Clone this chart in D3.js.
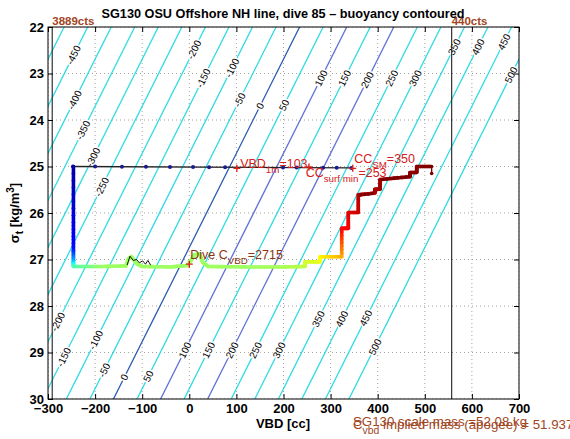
<!DOCTYPE html>
<html><head><meta charset="utf-8">
<script src="https://cdn.jsdelivr.net/npm/d3@7"></script>
<style>
body{margin:0;background:#fff;}
svg{display:block;font-family:"Liberation Sans",Arial,Helvetica,sans-serif;}
</style></head><body>
<svg id="chart" width="570" height="439"></svg>
<script>
// ---------- data ----------
const xTicks = [-300,-200,-100,0,100,200,300,400,500,600,700];
const yTicks = [22,23,24,25,26,27,28,29,30];
const contourLevels = [-500,-450,-400,-350,-300,-250,-200,-150,-100,-50,0,50,100,150,200,250,300,350,400,450,500];
// buoyancy field: zero-buoyancy VBD at sigma 30 and cc per kg/m3
const zeroBuoyVbdAtSigma30 = -161;
const ccPerSigma = 49.4;
const labelLevelsTop = [-450,-400,-350,-300,-250,-200,-150,-100,-50,0,50,100,150,200,250,300,350,400,450,500];
const labelSigmasTop = [22.60,23.57,24.22,24.80,25.44,22.49,23.10,22.88,23.57,23.70,23.68,23.10,23.10,23.14,23.10,23.10,22.43,22.43,22.32,23.03];
const labelLevelsBottom = [-200,-150,-100,-50,0,50,100,150,200,250,300,350,400,450,500];
const labelSigmasBottom = [28.34,29.10,28.73,29.38,29.53,29.51,28.95,28.95,28.95,28.95,28.95,28.28,28.28,28.26,28.88];

// dive trajectory (VBD cc, sigma_t, colour position 0..1)
const diveVbd   = [-246,-246,-246,-246,-246, -180,-135,-129,-123,-117,-110,-100,-40,-5,5,10,22,28,40,120,200,245.6,
                   245.6,277.5,277.5,323.6,323.6,337.6,337.6,358.8,358.8,394,394,405,405,468.6,468.6,482.8,482.8,514.6];
const diveSigma = [25.0,26.2,26.8,27.05,27.15, 27.15,27.14,26.98,26.94,27.02,27.10,27.15,27.16,27.13,27.0,26.9,26.88,27.05,27.15,27.16,27.16,27.15,
                   27.05,27.05,26.94,26.94,26.33,26.33,25.99,25.99,25.61,25.57,25.49,25.49,25.28,25.22,25.13,25.13,25.0,25.0];
const diveColorPos = [0.03,0.09,0.14,0.3,0.45, 0.53,0.53,0.53,0.53,0.53,0.53,0.53,0.53,0.53,0.53,0.53,0.53,0.53,0.53,0.53,0.54,0.56,
                   0.58,0.6,0.63,0.7,0.87,0.88,0.9,0.92,0.94,0.95,0.96,0.96,0.97,0.98,0.985,0.99,0.99,1.0];
const tailVbd = [514.6,514.6];
const tailSigma = [25.0,25.15];
const darkDotVbd = [364,372,380,388,410,418,426,434,442,450,458,466,514.6];
const darkDotSigma = [25.61,25.60,25.59,25.58,25.28,25.27,25.26,25.25,25.24,25.23,25.23,25.22,25.15];

// secondary black trace
const blackVbd = [-132,-126,-119,-112,-106,-99,-93,-88,-82];
const blackSigma = [27.12,26.93,27.02,27.0,27.07,27.03,27.1,27.02,27.12];

// surface line at sigma 25
const surfVbd = [-246,345];
const surfSigma = [25.0,25.03];
const surfDotVbd = [-247,-200,-143,-92,-41,8,42,76,199,228,284,313,344];

// markers
const markVbd = [101,254,347,0];
const markSigma = [25.04,25.01,25.04,27.1];

// count limit lines
const limitVbd = [-291,557];
const limitLabels = ["3889cts","440cts"];

// ---------- drawing ----------
const svg = d3.select("#chart");
const L=48,R=519,T=27,B=399;
const x = d3.scaleLinear().domain([-300,700]).range([L,R]);
const y = d3.scaleLinear().domain([22,30]).range([T,B]);
const jet = d3.scaleLinear().domain([0,0.125,0.375,0.625,0.875,1])
  .range(["#00008f","#0000ff","#00ffff","#ffff00","#ff0000","#800000"]);

svg.append("rect").attr("width",570).attr("height",439).attr("fill","#fff");
svg.append("defs").append("clipPath").attr("id","clip")
  .append("rect").attr("x",L).attr("y",T).attr("width",R-L).attr("height",B-T);
const plot = svg.append("g").attr("clip-path","url(#clip)");

// grid
plot.selectAll(".gx").data(xTicks).join("line")
  .attr("x1",d=>x(d)).attr("x2",d=>x(d)).attr("y1",T).attr("y2",B)
  .attr("stroke","#8a8a8a").attr("stroke-width",0.8).attr("stroke-dasharray","1,3");
plot.selectAll(".gy").data(yTicks).join("line")
  .attr("x1",L).attr("x2",R).attr("y1",d=>y(d)).attr("y2",d=>y(d))
  .attr("stroke","#8a8a8a").attr("stroke-width",0.8).attr("stroke-dasharray","1,3");

// contours
const vbdOn = (level, s) => level + zeroBuoyVbdAtSigma30 - ccPerSigma*(s-30);
const contourColor = l => l===0 ? "#2b5bb2" : (l===100||l===200) ? "#5f70d6" : "#2fdbe3";
plot.selectAll(".ct").data(contourLevels).join("line")
  .attr("x1",l=>x(vbdOn(l,30))).attr("y1",y(30))
  .attr("x2",l=>x(vbdOn(l,22))).attr("y2",y(22))
  .attr("stroke",contourColor).attr("stroke-width",1.3);

const angle = Math.atan2(y(21)-y(22), x(ccPerSigma)-x(0))*180/Math.PI;
const labels = labelLevelsTop.map((l,i)=>({l, s:labelSigmasTop[i]}))
  .concat(labelLevelsBottom.map((l,i)=>({l, s:labelSigmasBottom[i]})));
plot.selectAll(".cl").data(labels).join("text")
  .attr("transform",d=>`translate(${x(vbdOn(d.l,d.s))},${y(d.s)}) rotate(${angle})`)
  .attr("text-anchor","middle").attr("dy","0.35em")
  .attr("font-size",10).attr("fill","#000")
  .attr("stroke","#fff").attr("stroke-width",3).attr("paint-order","stroke")
  .text(d=>d.l<0?"-"+Math.abs(d.l):d.l);

// limit lines
svg.selectAll(".lim").data(limitVbd).join("line")
  .attr("x1",d=>x(d)).attr("x2",d=>x(d)).attr("y1",T).attr("y2",B)
  .attr("stroke","#333").attr("stroke-width",1.2);
svg.selectAll(".liml").data(limitVbd).join("text")
  .attr("x",d=>x(d)).attr("y",T-2).attr("font-size",11.5).attr("font-weight","bold")
  .attr("fill","#a0461e").text((d,i)=>limitLabels[i]);

// surface line + dots
const line = d3.line().x(d=>x(d[0])).y(d=>y(d[1]));
plot.append("path").datum(surfVbd.map((v,i)=>[v,surfSigma[i]]))
  .attr("d",line).attr("fill","none").attr("stroke","#222").attr("stroke-width",1.3);
const surfSig = d3.scaleLinear().domain(surfVbd).range(surfSigma);
plot.selectAll(".sd").data(surfDotVbd).join("circle")
  .attr("cx",d=>x(d)).attr("cy",d=>y(surfSig(d))).attr("r",2).attr("fill","#1a1a90");

// dive path, coloured segments
const dive = diveVbd.map((v,i)=>({v,s:diveSigma[i],c:diveColorPos[i]}));
const segs = [];
for(let i=0;i<dive.length-1;i++){
  const a=dive[i], b=dive[i+1], n=8;
  for(let k=0;k<n;k++){
    const f0=k/n, f1=(k+1)/n;
    segs.push({x1:x(a.v+(b.v-a.v)*f0), y1:y(a.s+(b.s-a.s)*f0),
               x2:x(a.v+(b.v-a.v)*f1), y2:y(a.s+(b.s-a.s)*f1),
               c:jet(a.c+(b.c-a.c)*(f0+f1)/2)});
  }
}
plot.selectAll(".dv").data(segs).join("line")
  .attr("x1",d=>d.x1).attr("y1",d=>d.y1).attr("x2",d=>d.x2).attr("y2",d=>d.y2)
  .attr("stroke",d=>d.c).attr("stroke-width",3.6).attr("stroke-linecap","round");
plot.append("path").datum(tailVbd.map((v,i)=>[v,tailSigma[i]]))
  .attr("d",line).attr("fill","none").attr("stroke","#700000").attr("stroke-width",1.3);
plot.selectAll(".dd").data(darkDotVbd).join("circle")
  .attr("cx",d=>x(d)).attr("cy",(d,i)=>y(darkDotSigma[i])).attr("r",1.8).attr("fill","#7a0000");

// black trace
plot.append("path").datum(blackVbd.map((v,i)=>[v,blackSigma[i]]))
  .attr("d",line).attr("fill","none").attr("stroke","#111").attr("stroke-width",1);

// markers
plot.selectAll(".mk").data(markVbd).join("path")
  .attr("d",(d,i)=>{const cx=x(d),cy=y(markSigma[i]);return `M${cx-3.5},${cy}H${cx+3.5}M${cx},${cy-3.5}V${cy+3.5}`;})
  .attr("stroke","#dd2020").attr("stroke-width",1.4);

// rich text helper
function rich(g,x0,y0,parts,size,color,weight){
  const t=g.append("text").attr("x",x0).attr("y",y0).attr("font-size",size)
    .attr("fill",color).attr("font-weight",weight||"normal");
  let shifted=false;
  parts.forEach(p=>{
    const ts=t.append("tspan").text(p.t);
    if(p.sub){ts.attr("font-size",size*0.78).attr("dy",shifted?0:size*0.4);shifted=true;}
    else if(shifted){ts.attr("dy",-size*0.4);shifted=false;}
  });
  return t;
}
const red="#d42020";
rich(svg,x(108),y(25.04),[{t:"VBD"},{t:"1m",sub:true},{t:"=103"}],12.5,red);
rich(svg,x(247),y(25.23),[{t:"CC"},{t:"surf min",sub:true},{t:"=253"}],12.5,red);
rich(svg,x(350),y(24.93),[{t:"CC"},{t:"SM",sub:true},{t:"=350"}],12.5,red);
rich(svg,x(2),y(26.98),[{t:"Dive C"},{t:"VBD",sub:true},{t:"=2715"}],12.5,"#8b3510");

// box and axes
svg.append("rect").attr("x",L).attr("y",T).attr("width",R-L).attr("height",B-T)
  .attr("fill","none").attr("stroke","#000").attr("stroke-width",1);
const styleAxis = g=>{g.select(".domain").remove();
  g.selectAll(".tick line").attr("stroke","#000");
  g.selectAll("text").attr("font-size",13).attr("font-weight","bold").attr("fill","#000")
   .attr("font-family","'Liberation Sans',Arial,sans-serif");};
svg.append("g").attr("transform",`translate(0,${B})`)
  .call(d3.axisBottom(x).tickValues(xTicks).tickSizeInner(-5).tickSizeOuter(0).tickPadding(5)).call(styleAxis);
svg.append("g").attr("transform",`translate(${L},0)`)
  .call(d3.axisLeft(y).tickValues(yTicks).tickSizeInner(-5).tickSizeOuter(0).tickPadding(4)).call(styleAxis);
svg.append("g").attr("transform",`translate(0,${T})`)
  .call(d3.axisTop(x).tickValues(xTicks).tickSizeInner(-5).tickSizeOuter(0).tickFormat("")).call(styleAxis);
svg.append("g").attr("transform",`translate(${R},0)`)
  .call(d3.axisRight(y).tickValues(yTicks).tickSizeInner(-5).tickSizeOuter(0).tickFormat("")).call(styleAxis);

// titles
svg.append("text").attr("x",283).attr("y",18).attr("text-anchor","middle")
  .attr("font-size",13).attr("font-weight","bold").attr("textLength",363).attr("lengthAdjust","spacingAndGlyphs")
  .text("SG130 OSU Offshore NH line, dive 85 \u2013 buoyancy contoured");
svg.append("text").attr("x",283).attr("y",428).attr("text-anchor","middle")
  .attr("font-size",13).attr("font-weight","bold").text("VBD [cc]");
const yl = svg.append("text").attr("transform",`translate(19,213) rotate(-90)`)
  .attr("text-anchor","middle").attr("font-size",13).attr("font-weight","bold");
yl.append("tspan").text("\u03c3");
yl.append("tspan").attr("font-size",10).attr("dy",4).text("t");
yl.append("tspan").attr("dy",-4).text(" [kg/m");
yl.append("tspan").attr("font-size",10).attr("dy",-5).text("3");
yl.append("tspan").attr("dy",5).text("]");

// bottom mass notes
const brown="#a0461e";
svg.append("text").attr("x",353).attr("y",426).attr("font-size",13.3).attr("fill",brown)
  .text("SG130 scale mass =52.08 kg");
rich(svg,353,429,[{t:"C"},{t:"vbd",sub:true},{t:" implied mass (apogee) = 51.937"}],13.3,brown);
</script></body></html>
